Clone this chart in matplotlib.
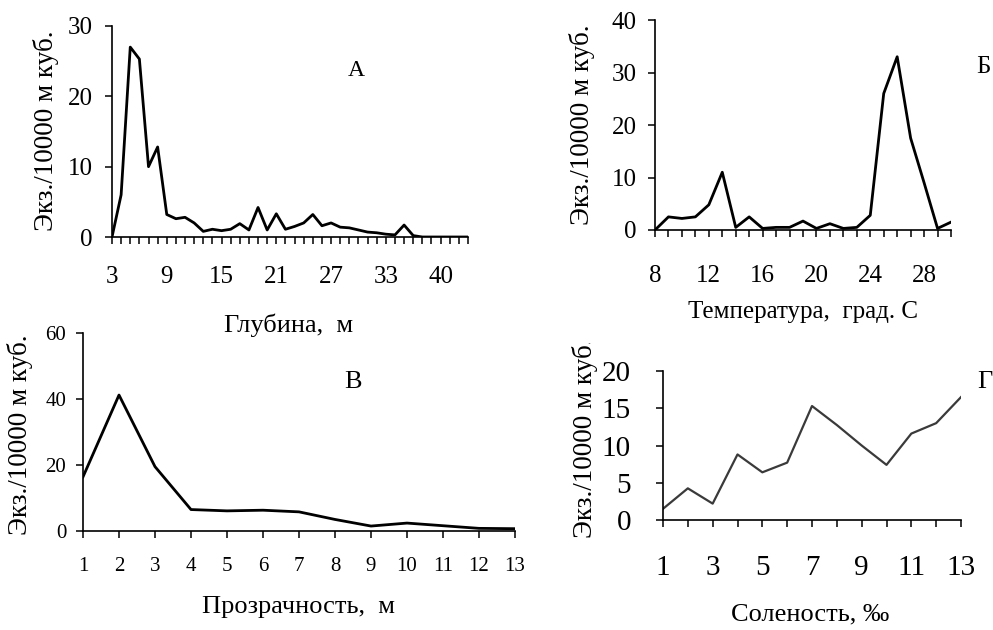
"""
Four-panel plankton density chart (depth, temperature, transparency, salinity)
"""

import matplotlib.pyplot as plt
import matplotlib.transforms as mtransforms
import numpy as np

plt.rcParams['font.family'] = ['Liberation Serif', 'DejaVu Serif']

W, H = 993, 630

# A - depth (categorical, 40 steps)
depth_vals = [0, 6, 27, 25.3, 10, 12.8, 3.2, 2.6, 2.8, 2.0,
              0.8, 1.1, 0.9, 1.1, 1.9, 1.0, 4.2, 1.0, 3.3, 1.1,
              1.5, 2.0, 3.2, 1.6, 2.0, 1.4, 1.3, 1.0, 0.7, 0.6,
              0.4, 0.3, 1.7, 0.2, 0, 0, 0, 0, 0, 0]
depth_labels = ['3', '9', '15', '21', '27', '33', '40']

# Б - temperature
temp_x = list(range(8, 31))
temp_vals = [0, 2.5, 2.2, 2.5, 4.8, 11, 0.5, 2.5, 0.3, 0.5,
             0.5, 1.7, 0.3, 1.2, 0.3, 0.5, 2.8, 26, 33, 17.5,
             9, 0.3, 1.5]

# В - transparency
transp_x = list(range(1, 14))
transp_vals = [16.4, 41.2, 19.5, 6.5, 6.1, 6.3, 5.8, 3.5, 1.5, 2.4, 1.6, 0.8, 0.7]

# Г - salinity
sal_x = list(range(1, 14))
sal_vals = [1.5, 4.25, 2.2, 8.8, 6.4, 7.7, 15.3, 12.75, 10, 7.4, 11.6, 13, 16.5]

ylab = "Экз./10000 м куб."


def make_axes(fig, left, right, top, bottom):
    # pixel box -> figure fraction
    ax = fig.add_axes([left / W, 1 - bottom / H, (right - left) / W, (bottom - top) / H])
    for s in ["top", "right"]:
        ax.spines[s].set_visible(False)
    for s in ["left", "bottom"]:
        ax.spines[s].set_linewidth(1.2)
    ax.tick_params(which="both", direction="out", length=5, width=1.1)
    return ax


fig = plt.figure(figsize=(W / 100, H / 100), dpi=100)

# A
ax = make_axes(fig, 112, 468, 26, 237)
ax.plot(np.arange(len(depth_vals)), depth_vals, color="black", lw=2.0)
ax.set_xlim(0, len(depth_vals) - 1)
ax.set_ylim(0, 30)
ax.set_yticks([0, 10, 20, 30])
ax.set_xticks(np.arange(0, 37, 6))
ax.set_xticklabels(depth_labels)
ax.set_xticks(np.arange(len(depth_vals)), minor=True)
ax.tick_params(labelsize=18)
ax.tick_params(axis="x", pad=16)
ax.tick_params(axis="y", pad=9)
fig.text(46 / W, 1 - 131 / H, ylab, rotation=90, ha="center", va="center", fontsize=19.5)
fig.text(289 / W, 1 - 325 / H, "Глубина,  м", ha="center", va="center", fontsize=19)
fig.text(356 / W, 1 - 70 / H, "А", ha="center", va="center", fontsize=17)

# Б
ax = make_axes(fig, 655, 951, 20, 230)
ax.plot(temp_x, temp_vals, color="black", lw=2.0)
ax.set_xlim(8, 30)
ax.set_ylim(0, 40)
ax.set_yticks([0, 10, 20, 30, 40])
ax.set_xticks(range(8, 29, 4))
ax.set_xticks(temp_x, minor=True)
ax.tick_params(labelsize=18)
ax.tick_params(axis="x", pad=20)
ax.tick_params(axis="y", pad=8)
fig.text(582 / W, 1 - 125 / H, ylab, rotation=90, ha="center", va="center", fontsize=19.5)
fig.text(803 / W, 1 - 312 / H, "Температура,  град. С", ha="center", va="center", fontsize=18)
fig.text(983 / W, 1 - 67 / H, "Б", ha="center", va="center", fontsize=18)

# В
ax = make_axes(fig, 83, 515, 333, 531)
ax.plot(transp_x, transp_vals, color="black", lw=2.0)
ax.set_xlim(1, 13)
ax.set_ylim(0, 60)
ax.set_yticks([0, 20, 40, 60])
ax.set_xticks(transp_x)
ax.tick_params(labelsize=15)
ax.tick_params(axis="x", pad=14)
ax.tick_params(axis="y", pad=7)
fig.text(20 / W, 1 - 435 / H, ylab, rotation=90, ha="center", va="center", fontsize=19.5)
fig.text(298 / W, 1 - 607 / H, "Прозрачность,  м", ha="center", va="center", fontsize=19)
fig.text(353 / W, 1 - 382 / H, "В", ha="center", va="center", fontsize=19)

# Г
ax = make_axes(fig, 663, 961, 371, 520)
ax.plot(sal_x, sal_vals, color="#3a3a3a", lw=1.6)
ax.set_xlim(1, 13)
ax.set_ylim(0, 20)
ax.set_yticks([0, 5, 10, 15, 20])
ax.set_xticks(range(1, 14, 2))
ax.set_xticks(sal_x, minor=True)
ax.tick_params(labelsize=21)
ax.tick_params(axis="x", pad=20)
ax.tick_params(axis="y", pad=18)
t = fig.text(585 / W, 1 - 438 / H, "Экз./10000 м куб.", rotation=90,
             ha="center", va="center", fontsize=19.5)
# label is cut at the top in the original
t.set_clip_box(mtransforms.Bbox.from_extents(0, 0, W, H - 343))
t.set_clip_on(True)
fig.text(810 / W, 1 - 614 / H, "Соленость, ‰", ha="center", va="center", fontsize=19)
fig.text(985 / W, 1 - 382 / H, "Г", ha="center", va="center", fontsize=19)

plt.savefig("out.png", dpi=100)
